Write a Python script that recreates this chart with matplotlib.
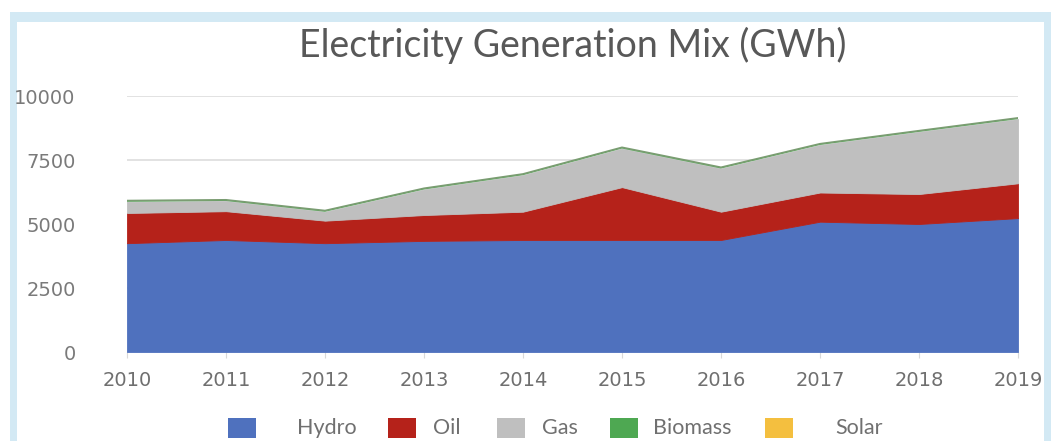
import matplotlib
matplotlib.use("Agg")
import matplotlib.pyplot as plt
from matplotlib.patches import Rectangle

years = [2010, 2011, 2012, 2013, 2014, 2015, 2016, 2017, 2018, 2019]
hydro = [4250, 4375, 4250, 4340, 4375, 4375, 4375, 5090, 5000, 5230]
oil = [1180, 1125, 880, 1010, 1105, 2065, 1105, 1140, 1170, 1360]
gas = [440, 400, 350, 1000, 1430, 1510, 1690, 1860, 2430, 2510]
biomass = [40, 40, 40, 40, 40, 40, 40, 40, 40, 40]
solar = [5, 5, 5, 5, 5, 5, 5, 5, 5, 5]
series_names = ["Hydro", "Oil", "Gas", "Biomass", "Solar"]
colors = ["#4F71BE", "#B5221A", "#BFBFBF", "#4EA852", "#F4BF3F"]
y_ticks = [0, 2500, 5000, 7500, 10000]
title = "Electricity Generation Mix (GWh)"

W, H = 1051, 441
fig = plt.figure(figsize=(W / 100, H / 100), dpi=100)
fig.patch.set_facecolor("white")

# frame
blue = "#D3E9F4"
fig.patches.append(Rectangle((10 / W, 0), (W - 10) / W, (H - 12) / H, transform=fig.transFigure,
                             facecolor=blue, edgecolor="none", zorder=-3))
fig.patches.append(Rectangle((17 / W, 0), (1044 - 17) / W, (H - 22) / H, transform=fig.transFigure,
                             facecolor="white", edgecolor="none", zorder=-2))

ax = fig.add_axes([127 / W, (H - 352) / H, (1018 - 127) / W, (352 - 96) / H])
ax.set_zorder(1)
ax.set_facecolor("none")
polys = ax.stackplot(years, hydro, oil, gas, biomass, solar, colors=colors, labels=series_names,
                     linewidth=0.6, zorder=2)
for i, (p, c) in enumerate(zip(polys, colors)):
    if i < 3:
        p.set_edgecolor(c)
    else:
        p.set_linewidth(0)
ax.plot(years, [h + o + g + b + s for h, o, g, b, s in zip(hydro, oil, gas, biomass, solar)],
        color="#7A9C72", linewidth=1.2, zorder=3)

ax.set_xlim(2010, 2019)
ax.set_ylim(0, 10000)
ax.set_yticks(y_ticks)
ax.set_xticks(years)
ax.grid(axis="y", color="#DDDDDD", linewidth=1.2, zorder=1)
ax.set_axisbelow(True)
for s in ax.spines.values():
    s.set_visible(False)
ax.tick_params(axis="y", length=0, pad=37, labelsize=14, labelcolor="#7A7A7A")
ax.tick_params(axis="x", length=4, color="#D9D9D9", pad=10, labelsize=14, labelcolor="#6F6F6F")
for lab in ax.get_xticklabels() + ax.get_yticklabels():
    lab.set_family("DejaVu Sans")

fig.text(573 / W, 1 - 45 / H, title, ha="center", va="center", fontsize=27,
         family="Lato", color="#585858")

# legend
legend_patch_x = [228, 388, 497, 610, 765]
legend_text_x = [297, 433, 542, 653, 835]
for name, c, px, tx in zip(series_names, colors, legend_patch_x, legend_text_x):
    fig.patches.append(Rectangle((px / W, 1 - 438 / H), 28 / W, 20 / H, transform=fig.transFigure,
                                 facecolor=c, edgecolor="none", zorder=2))
    fig.text(tx / W, 1 - 428 / H, name, ha="left", va="center", fontsize=15.5,
             family="Lato", color="#707070")

fig.savefig("out.png", dpi=100)
